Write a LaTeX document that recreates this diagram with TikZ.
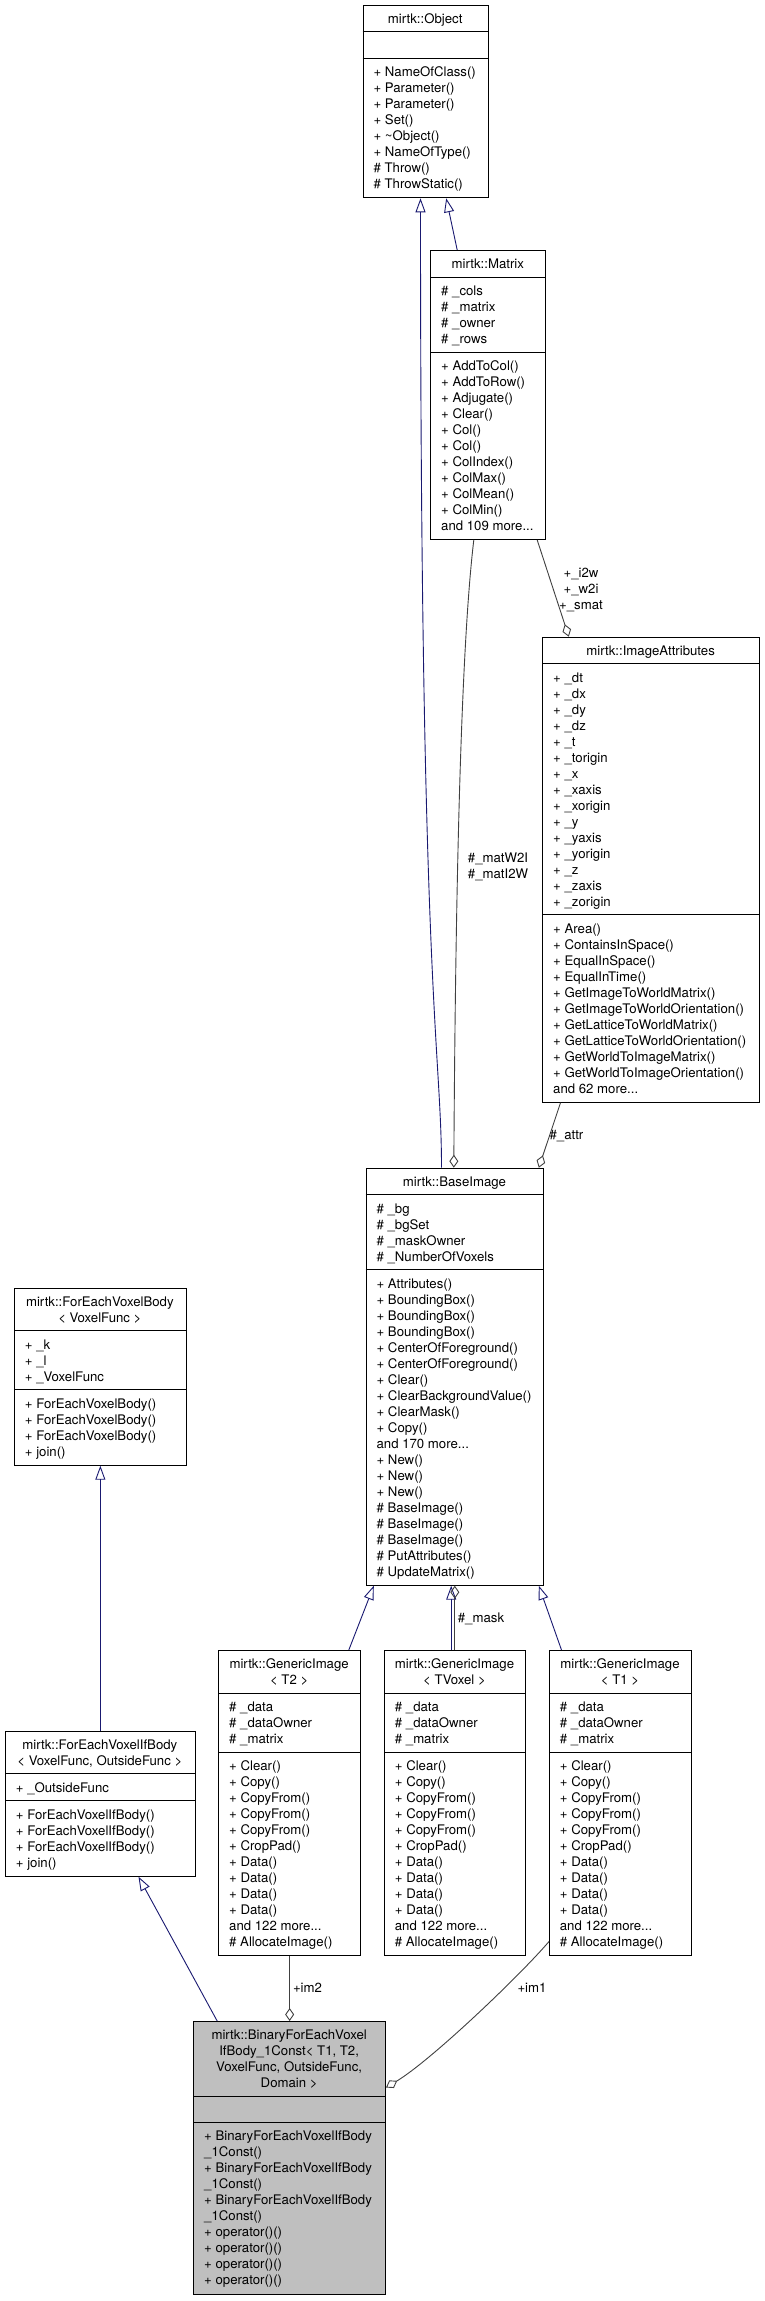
\documentclass[tikz,border=0pt]{standalone}
\usepackage{fontspec}
\setmainfont{TeX Gyre Heros}
\usetikzlibrary{arrows.meta}

\definecolor{inhblue}{HTML}{191970}
\definecolor{aggrgray}{HTML}{404040}
\definecolor{hilight}{HTML}{BFBFBF}

\newcommand{\umlfont}{\fontsize{13.2}{16}\selectfont}

\tikzset{
  classbox/.style={draw=black, line width=1pt, anchor=north west, inner sep=0pt},
  separator/.style={draw=black, line width=1pt},
  classname/.style={anchor=north, align=center, inner sep=0pt},
  members/.style={anchor=north west, align=left, inner sep=0pt},
  inherits/.style={draw=inhblue, line width=0.9pt, -{Triangle[open, length=14pt, width=10pt]}},
  aggregate/.style={draw=aggrgray, line width=0.9pt, -{Diamond[open, length=13pt, width=9pt]}},
  rolelabel/.style={align=center, inner sep=0pt}
}

\begin{document}
\begin{tikzpicture}[x=1pt, y=-1pt, font=\umlfont]

    \useasboundingbox (0,0) rectangle (764,2301);

    % mirtk::Object
    \node[classbox, minimum width=125pt, minimum height=192.6pt] (object) at (362.7,4.7) {};
    \draw[separator] ([yshift=-27pt]object.north west) -- ([yshift=-27pt]object.north east)
                     ([yshift=-53.5pt]object.north west) -- ([yshift=-53.5pt]object.north east);
    \node[classname] (objectname) at (425.2,11.7) {\strut mirtk::Object};
    \node[members] (objectops) at (373.4,65.2) {\strut + NameOfClass()\\+ Parameter()\\+ Parameter()\\+ Set()\\+ \textasciitilde Object()\\+ NameOfType()\\\# Throw()\\\# ThrowStatic()};

    % mirtk::Matrix
    \node[classbox, minimum width=115pt, minimum height=289pt] (matrix) at (430.3,250) {};
    \draw[separator] ([yshift=-27pt]matrix.north west) -- ([yshift=-27pt]matrix.north east)
                     ([yshift=-102pt]matrix.north west) -- ([yshift=-102pt]matrix.north east);
    \node[classname] (matrixname) at (487.8,257) {\strut mirtk::Matrix};
    \node[members] (matrixattrs) at (441,284) {\strut \# \_cols\\\# \_matrix\\\# \_owner\\\# \_rows};
    \node[members] (matrixops) at (441,359) {\strut + AddToCol()\\+ AddToRow()\\+ Adjugate()\\+ Clear()\\+ Col()\\+ Col()\\+ ColIndex()\\+ ColMax()\\+ ColMean()\\+ ColMin()\\and 109 more...};

    % mirtk::ImageAttributes
    \node[classbox, minimum width=216.7pt, minimum height=465pt] (imgattr) at (542.3,636.7) {};
    \draw[separator] ([yshift=-27pt]imgattr.north west) -- ([yshift=-27pt]imgattr.north east)
                     ([yshift=-278pt]imgattr.north west) -- ([yshift=-278pt]imgattr.north east);
    \node[classname] (imgattrname) at (650.65,643.7) {\strut mirtk::ImageAttributes};
    \node[members] (imgattrattrs) at (553,670.7) {\strut + \_dt\\+ \_dx\\+ \_dy\\+ \_dz\\+ \_t\\+ \_torigin\\+ \_x\\+ \_xaxis\\+ \_xorigin\\+ \_y\\+ \_yaxis\\+ \_yorigin\\+ \_z\\+ \_zaxis\\+ \_zorigin};
    \node[members] (imgattrops) at (553,921.7) {\strut + Area()\\+ ContainsInSpace()\\+ EqualInSpace()\\+ EqualInTime()\\+ GetImageToWorldMatrix()\\+ GetImageToWorldOrientation()\\+ GetLatticeToWorldMatrix()\\+ GetLatticeToWorldOrientation()\\+ GetWorldToImageMatrix()\\+ GetWorldToImageOrientation()\\and 62 more...};

    % mirtk::BaseImage
    \node[classbox, minimum width=177.6pt, minimum height=417pt] (baseimg) at (365.7,1167.7) {};
    \draw[separator] ([yshift=-27pt]baseimg.north west) -- ([yshift=-27pt]baseimg.north east)
                     ([yshift=-102pt]baseimg.north west) -- ([yshift=-102pt]baseimg.north east);
    \node[classname] (baseimgname) at (454.5,1174.7) {\strut mirtk::BaseImage};
    \node[members] (baseimgattrs) at (376.4,1201.7) {\strut \# \_bg\\\# \_bgSet\\\# \_maskOwner\\\# \_NumberOfVoxels};
    \node[members] (baseimgops) at (376.4,1276.7) {\strut + Attributes()\\+ BoundingBox()\\+ BoundingBox()\\+ BoundingBox()\\+ CenterOfForeground()\\+ CenterOfForeground()\\+ Clear()\\+ ClearBackgroundValue()\\+ ClearMask()\\+ Copy()\\and 170 more...\\+ New()\\+ New()\\+ New()\\\# BaseImage()\\\# BaseImage()\\\# BaseImage()\\\# PutAttributes()\\\# UpdateMatrix()};

    % mirtk::ForEachVoxelBody
    \node[classbox, minimum width=171.7pt, minimum height=177pt] (fevbody) at (14,1287.7) {};
    \draw[separator] ([yshift=-43pt]fevbody.north west) -- ([yshift=-43pt]fevbody.north east)
                     ([yshift=-102pt]fevbody.north west) -- ([yshift=-102pt]fevbody.north east);
    \node[classname] (fevbodyname) at (99.85,1294.7) {\strut mirtk::ForEachVoxelBody\\\textless{} VoxelFunc \textgreater};
    \node[members] (fevbodyattrs) at (24.7,1337.7) {\strut + \_k\\+ \_l\\+ \_VoxelFunc};
    \node[members] (fevbodyops) at (24.7,1396.7) {\strut + ForEachVoxelBody()\\+ ForEachVoxelBody()\\+ ForEachVoxelBody()\\+ join()};

    % mirtk::ForEachVoxelIfBody
    \node[classbox, minimum width=189.7pt, minimum height=145pt] (fevifbody) at (5,1730.7) {};
    \draw[separator] ([yshift=-43pt]fevifbody.north west) -- ([yshift=-43pt]fevifbody.north east)
                     ([yshift=-70pt]fevifbody.north west) -- ([yshift=-70pt]fevifbody.north east);
    \node[classname] (fevifbodyname) at (99.85,1737.7) {\strut mirtk::ForEachVoxelIfBody\\\textless{} VoxelFunc, OutsideFunc \textgreater};
    \node[members] (fevifbodyattrs) at (15.7,1780.7) {\strut + \_OutsideFunc};
    \node[members] (fevifbodyops) at (15.7,1807.7) {\strut + ForEachVoxelIfBody()\\+ ForEachVoxelIfBody()\\+ ForEachVoxelIfBody()\\+ join()};

    % mirtk::GenericImage< T2 >
    \node[classbox, minimum width=141.7pt, minimum height=305pt] (gimgTtwo) at (218.3,1650) {};
    \draw[separator] ([yshift=-43pt]gimgTtwo.north west) -- ([yshift=-43pt]gimgTtwo.north east)
                     ([yshift=-102pt]gimgTtwo.north west) -- ([yshift=-102pt]gimgTtwo.north east);
    \node[classname] (gimgTtwoname) at (289.15,1657) {\strut mirtk::GenericImage\\\textless{} T2 \textgreater};
    \node[members] (gimgTtwoattrs) at (229,1700) {\strut \# \_data\\\# \_dataOwner\\\# \_matrix};
    \node[members] (gimgTtwoops) at (229,1759) {\strut + Clear()\\+ Copy()\\+ CopyFrom()\\+ CopyFrom()\\+ CopyFrom()\\+ CropPad()\\+ Data()\\+ Data()\\+ Data()\\+ Data()\\and 122 more...\\\# AllocateImage()};

    % mirtk::GenericImage< TVoxel >
    \node[classbox, minimum width=141pt, minimum height=305pt] (gimgTvox) at (384,1650) {};
    \draw[separator] ([yshift=-43pt]gimgTvox.north west) -- ([yshift=-43pt]gimgTvox.north east)
                     ([yshift=-102pt]gimgTvox.north west) -- ([yshift=-102pt]gimgTvox.north east);
    \node[classname] (gimgTvoxname) at (454.5,1657) {\strut mirtk::GenericImage\\\textless{} TVoxel \textgreater};
    \node[members] (gimgTvoxattrs) at (394.7,1700) {\strut \# \_data\\\# \_dataOwner\\\# \_matrix};
    \node[members] (gimgTvoxops) at (394.7,1759) {\strut + Clear()\\+ Copy()\\+ CopyFrom()\\+ CopyFrom()\\+ CopyFrom()\\+ CropPad()\\+ Data()\\+ Data()\\+ Data()\\+ Data()\\and 122 more...\\\# AllocateImage()};

    % mirtk::GenericImage< T1 >
    \node[classbox, minimum width=142pt, minimum height=305pt] (gimgTone) at (549,1650) {};
    \draw[separator] ([yshift=-43pt]gimgTone.north west) -- ([yshift=-43pt]gimgTone.north east)
                     ([yshift=-102pt]gimgTone.north west) -- ([yshift=-102pt]gimgTone.north east);
    \node[classname] (gimgTonename) at (620,1657) {\strut mirtk::GenericImage\\\textless{} T1 \textgreater};
    \node[members] (gimgToneattrs) at (559.7,1700) {\strut \# \_data\\\# \_dataOwner\\\# \_matrix};
    \node[members] (gimgToneops) at (559.7,1759) {\strut + Clear()\\+ Copy()\\+ CopyFrom()\\+ CopyFrom()\\+ CopyFrom()\\+ CropPad()\\+ Data()\\+ Data()\\+ Data()\\+ Data()\\and 122 more...\\\# AllocateImage()};

    % mirtk::BinaryForEachVoxelIfBody_1Const
    \node[classbox, fill=hilight, minimum width=191.7pt, minimum height=272.5pt] (binary) at (193.3,2021) {};
    \draw[separator] ([yshift=-75pt]binary.north west) -- ([yshift=-75pt]binary.north east)
                     ([yshift=-101.5pt]binary.north west) -- ([yshift=-101.5pt]binary.north east);
    \node[classname] (binaryname) at (289.15,2028) {\strut mirtk::BinaryForEachVoxel\\IfBody\_1Const\textless{} T1, T2,\\VoxelFunc, OutsideFunc,\\Domain \textgreater};
    \node[members] (binaryops) at (204,2129.5) {\strut + BinaryForEachVoxelIfBody\\\_1Const()\\+ BinaryForEachVoxelIfBody\\\_1Const()\\+ BinaryForEachVoxelIfBody\\\_1Const()\\+ operator()()\\+ operator()()\\+ operator()()\\+ operator()()};

    % inheritance
    \draw[inherits] ([xshift=-31.1pt]matrix.north) -- ([xshift=20.5pt]object.south);
    \draw[inherits] ([xshift=-13.5pt]baseimg.north) .. controls +(0,-117.7) and +(0,802.7) .. ([xshift=-5.2pt]object.south);
    \draw[inherits] ([xshift=59.15pt]gimgTtwo.north) -- ([xshift=-81.2pt]baseimg.south);
    \draw[inherits] ([xshift=-3.8pt]gimgTvox.north) -- ([xshift=-3.8pt]baseimg.south);
    \draw[inherits] ([xshift=-59pt]gimgTone.north) -- ([xshift=83.8pt]baseimg.south);
    \draw[inherits] (fevifbody.north) -- (fevbody.south);
    \draw[inherits] ([xshift=-72.45pt]binary.north) -- ([xshift=38.15pt]fevifbody.south);

    % aggregation
    \draw[aggregate] ([xshift=-14.5pt]matrix.south) .. controls +(-13.3,111) and +(1.7,-267.7) .. ([xshift=-1.2pt]baseimg.north);
    \node[rolelabel] (matlabel) at (498,867) {\#\_matW2I\\\#\_matI2W};
    \draw[aggregate] ([xshift=48.9pt]matrix.south) -- ([xshift=-82.35pt]imgattr.north);
    \node[rolelabel] (smatlabel) at (581,589.5) {+\_i2w\\+\_w2i\\+\_smat};
    \draw[aggregate] ([xshift=-90.65pt]imgattr.south) -- ([xshift=83.8pt]baseimg.north);
    \node[rolelabel] (attrlabel) at (566.5,1136) {\#\_attr};
    \draw[aggregate] ([xshift=-0.2pt]gimgTvox.north) -- ([xshift=-0.2pt]baseimg.south);
    \node[rolelabel] (masklabel) at (481,1619) {\#\_mask};
    \draw[aggregate] (gimgTtwo.south) -- (binary.north);
    \node[rolelabel] (imtwolabel) at (307.5,1988) {+im2};
    \draw[aggregate] ([yshift=-138.5pt]gimgTone.west) .. controls +(-29,34) and +(45,-27) .. ([yshift=70.25pt]binary.east);
    \node[rolelabel] (imonelabel) at (532,1988) {+im1};

\end{tikzpicture}
\end{document}
